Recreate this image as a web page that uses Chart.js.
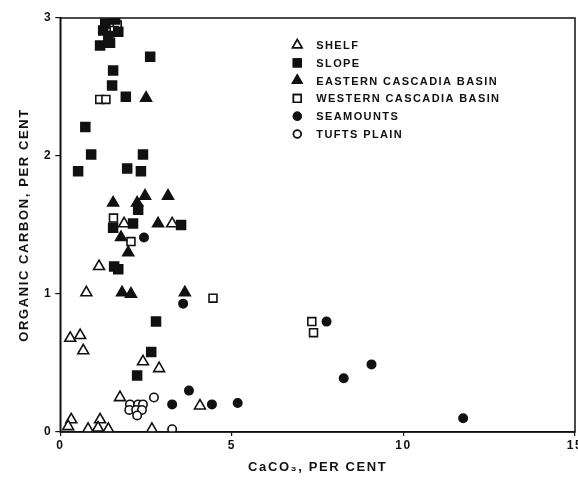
<!DOCTYPE html>
<html>
<head>
<meta charset="utf-8">
<script src="https://cdn.jsdelivr.net/npm/chart.js@4"></script>
<style>
    html, body { margin: 0; padding: 0; background: #fff; }
    #wrap { width: 578px; height: 486px; position: relative; }
</style>
</head>
<body>
<div id="wrap"><canvas id="graph"></canvas></div>
<script>
// Данные (CaCO3 %, органический углерод %)
var shelfX = [1.13, 0.76, 0.29, 0.58, 0.67, 1.86, 3.26, 2.41, 2.88, 1.74, 4.07, 0.32, 0.23, 0.81, 1.16, 1.10, 1.40, 2.67];
var shelfY = [1.20, 1.01, 0.68, 0.70, 0.59, 1.51, 1.51, 0.51, 0.46, 0.25, 0.19, 0.09, 0.04, 0.02, 0.09, 0.03, 0.02, 0.02];

var slopeX = [1.31, 1.25, 1.16, 1.45, 1.40, 1.69, 1.60, 2.62, 1.54, 1.51, 1.91, 0.73, 0.90, 2.41, 0.52, 1.95, 2.35, 2.27, 1.54, 2.12, 3.52, 1.57, 1.69, 2.79, 2.65, 2.24];
var slopeY = [2.96, 2.91, 2.80, 2.82, 2.87, 2.90, 2.99, 2.72, 2.62, 2.51, 2.43, 2.21, 2.01, 2.01, 1.89, 1.91, 1.89, 1.61, 1.48, 1.51, 1.50, 1.20, 1.18, 0.80, 0.58, 0.41];

var eastX = [2.50, 1.54, 2.24, 2.47, 3.14, 2.85, 1.77, 1.98, 1.80, 2.06, 3.63];
var eastY = [2.42, 1.66, 1.66, 1.71, 1.71, 1.51, 1.41, 1.30, 1.01, 1.00, 1.01];

var westX = [1.51, 1.66, 1.57, 1.15, 1.33, 1.55, 2.06, 4.45, 7.33, 7.38];
var westY = [2.99, 2.95, 2.91, 2.41, 2.41, 1.55, 1.38, 0.97, 0.80, 0.72];

var seaX = [2.44, 3.58, 3.26, 3.75, 4.42, 5.17, 7.76, 8.26, 9.07, 11.74];
var seaY = [1.41, 0.93, 0.20, 0.30, 0.20, 0.21, 0.80, 0.39, 0.49, 0.10];

var tuftsX = [2.03, 2.27, 2.41, 2.01, 2.21, 2.38, 2.24, 2.73, 3.26];
var tuftsY = [0.20, 0.20, 0.20, 0.16, 0.16, 0.16, 0.12, 0.25, 0.02];

var xTicks = [0, 5, 10, 15];
var yTicks = [0, 1, 2, 3];

var seriesNames = ['SHELF', 'SLOPE', 'EASTERN CASCADIA BASIN', 'WESTERN CASCADIA BASIN', 'SEAMOUNTS', 'TUFTS PLAIN'];

function toPoints(xs, ys) {
    return xs.map((x, i) => ({ x: x, y: ys[i] }));
}

var INK = '#111';
var FONT = '"Liberation Sans", "DejaVu Sans", sans-serif';

var styles = [
    { pointStyle: 'triangle', radius: 6.3, fill: '#fff' },
    { pointStyle: 'rect', radius: 6.3, fill: INK },
    { pointStyle: 'triangle', radius: 6.3, fill: INK },
    { pointStyle: 'rect', radius: 5.6, fill: '#fff' },
    { pointStyle: 'circle', radius: 4.2, fill: INK },
    { pointStyle: 'circle', radius: 4.2, fill: '#fff' }
];

var rawData = [
    [shelfX, shelfY], [slopeX, slopeY], [eastX, eastY],
    [westX, westY], [seaX, seaY], [tuftsX, tuftsY]
];

var datasets = rawData.map((pair, i) => ({
    label: seriesNames[i],
    data: toPoints(pair[0], pair[1]),
    pointStyle: styles[i].pointStyle,
    pointRadius: styles[i].radius,
    pointHoverRadius: styles[i].radius,
    backgroundColor: styles[i].fill,
    borderColor: INK,
    borderWidth: 1.6,
    showLine: false
}));

// Рамка вокруг области графика и легенда внутри неё
var framePlugin = {
    id: 'frame',
    beforeDraw(chart) {
        chart.ctx.letterSpacing = '1.6px';
    },
    afterDraw(chart) {
        var ctx = chart.ctx;
        var a = chart.chartArea;
        ctx.save();
        ctx.strokeStyle = INK;
        ctx.lineWidth = 1.5;
        ctx.strokeRect(a.left, a.top, a.right - a.left, a.bottom - a.top);

        // легенда
        var lx = a.left + 237;
        var ly = a.top + 27;
        var step = 17.8;
        ctx.font = 'bold 11px ' + FONT;
        ctx.letterSpacing = '1.4px';
        ctx.textBaseline = 'middle';
        ctx.fillStyle = INK;
        seriesNames.forEach((name, i) => {
            var y = ly + i * step;
            var st = styles[i];
            ctx.fillStyle = st.fill;
            ctx.strokeStyle = INK;
            ctx.lineWidth = 1.6;
            var r = st.pointStyle === 'circle' ? 3.8 : 5.4;
            Chart.helpers.drawPoint(ctx, { pointStyle: st.pointStyle, radius: r, borderWidth: 1.6 }, lx, y);
            ctx.fill();
            ctx.stroke();
            ctx.fillStyle = INK;
            ctx.fillText(name, lx + 19, y + 1);
        });
        ctx.restore();
    }
};

var ctx = document.getElementById('graph').getContext('2d');
var Graph = new Chart(ctx, {
    type: 'scatter',
    data: { datasets: datasets },
    options: {
        responsive: true,
        maintainAspectRatio: false,
        animation: false,
        layout: { autoPadding: false, padding: { top: 18, right: 3, left: 17, bottom: 11 } },
        plugins: {
            legend: { display: false },
            tooltip: { enabled: false }
        },
        scales: {
            x: {
                type: 'linear',
                min: 0,
                max: 15,
                afterBuildTicks: (axis) => { axis.ticks = xTicks.map(v => ({ value: v })); },
                afterFit: (axis) => { axis.paddingRight = 0; },
                grid: { drawOnChartArea: false, color: INK, tickLength: 4, lineWidth: 1.2 },
                border: { color: INK, width: 1.5 },
                ticks: { color: INK, font: { family: FONT, size: 12, weight: 'bold' }, padding: 2 },
                title: {
                    display: true,
                    text: 'CaCO₃, PER CENT',
                    color: INK,
                    font: { family: FONT, size: 13, weight: 'bold' },
                    padding: { top: 5, bottom: 0 }
                }
            },
            y: {
                type: 'linear',
                min: 0,
                max: 3,
                afterBuildTicks: (axis) => { axis.ticks = yTicks.map(v => ({ value: v })); },
                grid: { drawOnChartArea: false, color: INK, tickLength: 5, lineWidth: 1.2 },
                border: { color: INK, width: 1.5 },
                ticks: { color: INK, font: { family: FONT, size: 12, weight: 'bold' }, padding: 3 },
                title: {
                    display: true,
                    text: 'ORGANIC CARBON, PER CENT',
                    color: INK,
                    font: { family: FONT, size: 13, weight: 'bold' },
                    padding: { top: 0, bottom: 10 }
                }
            }
        }
    },
    plugins: [framePlugin]
});
</script>
</body>
</html>
